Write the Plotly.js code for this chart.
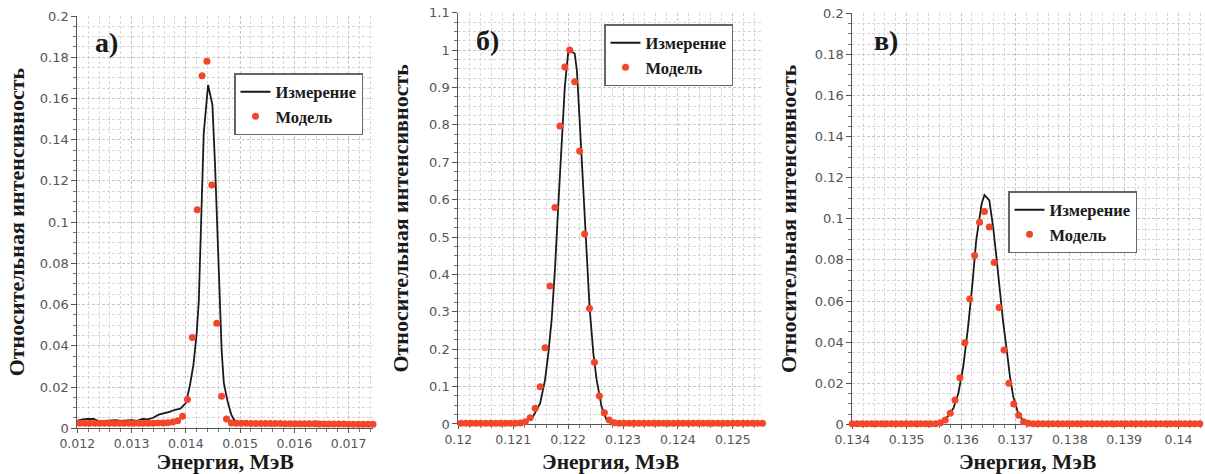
<!DOCTYPE html>
<html>
<head>
<meta charset="utf-8">
<script src="https://cdn.plot.ly/plotly-3.0.1.min.js"></script>
<style>html,body{margin:0;padding:0;background:#fff;}#chart{width:1205px;height:474px;}</style>
</head>
<body>
<div id="chart"></div>
<script>
// ---------- Panel а) ----------
const measA_x = [0.01200,0.01210,0.01220,0.01230,0.01240,0.01250,0.01260,0.01270,0.01280,0.01290,0.01300,0.01310,0.01320,0.01330,0.01340,0.01350,0.01360,0.01370,0.01380,0.01390,0.01400,
  0.01407,0.01414,0.01420,0.01424,0.01429,0.01433,0.01441,0.01449,0.01454,0.01460,0.01466,0.01470,0.01477,0.01484,0.01490,
  0.01500,0.01510,0.01520,0.01530,0.01540,0.01550,0.01560,0.01570,0.01580,0.01590,0.01600,0.01610,0.01620,0.01630,0.01640,0.01650,0.01660,0.01670,0.01680,0.01690,0.01700,0.01710,0.01720,0.01730,0.01740,0.01745];
const measA_y = [0.0037,0.0043,0.0045,0.0045,0.0034,0.0036,0.0037,0.0040,0.0036,0.0038,0.0040,0.0036,0.0046,0.0043,0.0051,0.0066,0.0072,0.0080,0.0090,0.0095,0.0122,
  0.0200,0.0307,0.0460,0.0620,0.1100,0.1430,0.1665,0.1570,0.1270,0.0780,0.0380,0.0220,0.0130,0.0065,0.0037,
  0.0027,0.0026,0.0027,0.0030,0.0026,0.0027,0.0026,0.0027,0.0030,0.0027,0.0026,0.0027,0.0027,0.0028,0.0033,0.0027,0.0026,0.0026,0.0025,0.0026,0.0026,0.0025,0.0025,0.0025,0.0025,0.0025];
const modA_x = [0.01205,0.01214,0.01223,0.01232,0.01241,0.01250,0.01259,0.01268,0.01277,0.01286,0.01295,0.01304,0.01313,0.01322,0.01331,0.01340,0.01349,0.01358,0.01367,
  0.01376,0.01385,0.01394,0.01403,0.01412,0.01421,0.01430,0.01439,0.01448,0.01457,0.01466,0.01475,0.01484,
  0.01493,0.01502,0.01511,0.01520,0.01529,0.01538,0.01547,0.01556,0.01565,0.01574,0.01583,0.01592,0.01601,0.01610,0.01619,0.01628,0.01637,0.01646,0.01655,0.01664,0.01673,0.01682,0.01691,0.01700,0.01709,0.01718,0.01727,0.01736,0.01745];
const modA_y = [0.0024,0.0025,0.0025,0.0024,0.0025,0.0025,0.0024,0.0025,0.0025,0.0024,0.0025,0.0025,0.0024,0.0025,0.0025,0.0025,0.0026,0.0026,0.0027,
  0.0030,0.0037,0.0058,0.0140,0.0440,0.1060,0.1710,0.1780,0.1180,0.0510,0.0155,0.0045,0.0026,
  0.0024,0.0024,0.0024,0.0023,0.0023,0.0023,0.0023,0.0023,0.0023,0.0023,0.0022,0.0022,0.0022,0.0022,0.0022,0.0022,0.0022,0.0021,0.0021,0.0021,0.0021,0.0021,0.0021,0.0020,0.0020,0.0020,0.0020,0.0020,0.0020];

// ---------- Panel б) ----------
const measB_x = [0.1200,0.1205,0.1210,0.12115,0.12118,0.12125,0.12136,0.12149,0.12158,0.12164,0.12170,0.12176,0.12182,0.12190,0.12194,0.12200,0.12204,0.12212,0.12216,0.12221,
  0.12227,0.12233,0.12239,0.12246,0.12252,0.12261,0.12270,0.12279,0.1229,0.1235,0.1240,0.1245,0.1250,0.12555];
const measB_y = [0.002,0.002,0.002,0.004,0.006,0.010,0.0195,0.055,0.118,0.189,0.278,0.412,0.581,0.813,0.902,0.991,0.998,0.991,0.946,0.813,
  0.634,0.456,0.314,0.189,0.118,0.046,0.011,0.002,0.002,0.002,0.002,0.002,0.002,0.002];
const modB_x = [0.12005,0.12014,0.12023,0.12032,0.12041,0.12050,0.12059,0.12068,0.12077,0.12086,0.12095,0.12104,0.12113,0.12122,0.12131,0.12140,0.12149,0.12158,0.12167,0.12176,0.12185,0.12194,0.12203,
  0.12212,0.12221,0.12230,0.12239,0.12248,0.12257,0.12266,0.12275,0.12284,0.12293,0.12302,0.12311,0.12320,0.12329,0.12338,0.12347,0.12356,0.12365,0.12374,0.12383,0.12392,0.12401,0.12410,0.12419,0.12428,0.12437,0.12446,0.12455,0.12464,0.12473,0.12482,0.12491,0.12500,0.12509,0.12518,0.12527,0.12536,0.12545,0.12554];
const modB_y = [0.002,0.002,0.002,0.002,0.002,0.002,0.002,0.002,0.002,0.002,0.002,0.002,0.003,0.006,0.017,0.042,0.0998,0.204,0.369,0.579,0.797,0.955,1.0,
  0.915,0.730,0.508,0.309,0.165,0.075,0.030,0.011,0.0036,0.002,0.002,0.002,0.002,0.002,0.002,0.002,0.002,0.002,0.002,0.002,0.002,0.002,0.002,0.002,0.002,0.002,0.002,0.002,0.002,0.002,0.002,0.002,0.002,0.002,0.002,0.002,0.002,0.002,0.002];

// ---------- Panel в) ----------
const measC_x = [0.1340,0.1345,0.1350,0.1355,0.13561,0.13573,0.13586,0.13595,0.13604,0.13613,0.13621,0.13628,0.13638,0.13643,0.13652,0.13659,0.13665,0.13671,0.13677,0.13684,
  0.13690,0.13696,0.13705,0.13714,0.13726,0.1375,0.1380,0.1385,0.1390,0.1395,0.1400,0.14045];
const measC_y = [0.0003,0.0003,0.0003,0.0004,0.0008,0.0029,0.0078,0.0151,0.0280,0.0475,0.0686,0.0897,0.1075,0.1116,0.1090,0.0960,0.0816,0.0654,0.0508,0.0362,
  0.0232,0.0135,0.0054,0.0018,0.0005,0.0003,0.0003,0.0003,0.0003,0.0003,0.0003,0.0003];
const modC_x = [0.13400,0.13409,0.13418,0.13427,0.13436,0.13445,0.13454,0.13463,0.13472,0.13481,0.13490,0.13499,0.13508,0.13517,0.13526,0.13535,0.13544,0.13553,
  0.13562,0.13571,0.13580,0.13589,0.13598,0.13607,0.13616,0.13625,0.13634,0.13643,
  0.13652,0.13661,0.13670,0.13679,0.13688,0.13697,0.13706,0.13715,0.13724,0.13733,0.13742,0.13751,0.13760,0.13769,0.13778,0.13787,0.13796,0.13805,0.13814,0.13823,
  0.13832,0.13841,0.13850,0.13859,0.13868,0.13877,0.13886,0.13895,0.13904,0.13913,0.13922,0.13931,0.13940,0.13949,0.13958,0.13967,0.13976,0.13985,0.13994,0.14003,
  0.14012,0.14021,0.14030,0.14039];
const modC_y = [0.0003,0.0003,0.0003,0.0003,0.0003,0.0003,0.0003,0.0003,0.0003,0.0003,0.0003,0.0003,0.0003,0.0003,0.0003,0.0003,0.0003,0.0003,
  0.0008,0.0021,0.0054,0.0118,0.0227,0.0397,0.0610,0.0821,0.0983,0.1035,
  0.0960,0.0787,0.0568,0.0362,0.0200,0.0099,0.0044,0.0013,0.0005,0.0003,0.0003,0.0003,0.0003,0.0003,0.0003,0.0003,0.0003,0.0003,0.0003,0.0003,
  0.0003,0.0003,0.0003,0.0003,0.0003,0.0003,0.0003,0.0003,0.0003,0.0003,0.0003,0.0003,0.0003,0.0003,0.0003,0.0003,0.0003,0.0003,0.0003,0.0003,
  0.0003,0.0003,0.0003,0.0003];

// ---------- Text ----------
const nameMeas = 'Измерение';
const nameMod = 'Модель';
const panelLabels = ['а)', 'б)', 'в)'];
const xTitle = 'Энергия, МэВ';
const yTitle = 'Относительная интенсивность';

const LINE_COLOR = '#1a1a1a';
const DOT_COLOR = '#f2462b';
const serif = 'Liberation Serif, Times New Roman, serif';
const sans = 'DejaVu Sans, sans-serif';

function lineTrace(x, y, xa, ya, lg) {
  return {x, y, xaxis: xa, yaxis: ya, type: 'scatter', mode: 'lines', name: nameMeas,
    line: {color: LINE_COLOR, width: 1.8}, legend: lg, cliponaxis: false};
}
function dotTrace(x, y, xa, ya, lg) {
  return {x, y, xaxis: xa, yaxis: ya, type: 'scatter', mode: 'markers', name: nameMod,
    marker: {color: DOT_COLOR, size: 7}, legend: lg, cliponaxis: false};
}

const data = [
  lineTrace(measA_x, measA_y, 'x', 'y', 'legend'),
  dotTrace(modA_x, modA_y, 'x', 'y', 'legend'),
  lineTrace(measB_x, measB_y, 'x2', 'y2', 'legend2'),
  dotTrace(modB_x, modB_y, 'x2', 'y2', 'legend2'),
  lineTrace(measC_x, measC_y, 'x3', 'y3', 'legend3'),
  dotTrace(modC_x, modC_y, 'x3', 'y3', 'legend3')
];

function xAxis(domain, range, tick0, dtick, minorDtick, anchor) {
  return {
    domain, range, anchor, tick0, dtick,
    showgrid: true, gridcolor: '#c6c6c6', griddash: '3px,2px', gridwidth: 1,
    zeroline: false, showline: true, linecolor: '#555', linewidth: 1,
    ticks: 'outside', ticklen: 4, tickcolor: '#555', layer: 'below traces',
    tickfont: {family: sans, size: 12.5, color: '#555'},
    minor: {dtick: minorDtick, showgrid: true, gridcolor: '#d8d8d8', griddash: '3px,2px', ticks: 'outside', ticklen: 3, tickcolor: '#777'},
    title: {text: xTitle, font: {family: serif, size: 21.5, color: '#1a1a1a', weight: 'bold'}, standoff: 10}
  };
}
function yAxis(domain, range, dtick, minorDtick, anchor, standoff) {
  return {
    domain, range, anchor, tick0: 0, dtick,
    showgrid: true, gridcolor: '#c6c6c6', griddash: '3px,2px', gridwidth: 1,
    zeroline: false, showline: true, linecolor: '#555', linewidth: 1,
    ticks: 'outside', ticklen: 5, tickcolor: '#555', layer: 'below traces',
    tickfont: {family: sans, size: 13, color: '#555'},
    minor: {dtick: minorDtick, showgrid: true, gridcolor: '#d8d8d8', griddash: '3px,2px', ticks: 'outside', ticklen: 3, tickcolor: '#777'},
    title: {text: yTitle, font: {family: serif, size: 22, color: '#1a1a1a', weight: 'bold'}, standoff: standoff}
  };
}
function legendBox(x, y) {
  return {x, y, xanchor: 'left', yanchor: 'top', bgcolor: '#ffffff', bordercolor: '#666', borderwidth: 1.5,
    font: {family: serif, size: 16.5, color: '#1a1a1a', weight: 'bold'}, itemwidth: 30, tracegroupgap: 0};
}
function label(text, x, y) {
  return {text, x, y, xref: 'paper', yref: 'paper', xanchor: 'center', yanchor: 'middle', showarrow: false,
    font: {family: serif, size: 28, color: '#1a1a1a', weight: 'bold'}};
}

const layout = {
  width: 1205, height: 474,
  margin: {l: 0, r: 0, t: 0, b: 0},
  paper_bgcolor: '#ffffff', plot_bgcolor: '#ffffff',
  showlegend: true,
  xaxis: xAxis([0.06415, 0.30954], [0.012, 0.01745], 0.012, 0.001, 0.0002, 'y'),
  yaxis: yAxis([0.09641, 0.96624], [0, 0.2], 0.02, 0.005, 'x', 9),
  xaxis2: xAxis([0.38033, 0.63320], [0.12, 0.12555], 0.12, 0.001, 0.0002, 'y2'),
  yaxis2: yAxis([0.10549, 0.97321], [0, 1.1], 0.1, 0.025, 'x2', 14),
  xaxis3: xAxis([0.70730, 0.99834], [0.134, 0.14045], 0.134, 0.001, 0.0002, 'y3'),
  yaxis3: yAxis([0.10485, 0.97194], [0, 0.2], 0.02, 0.005, 'x3', 12),
  legend: legendBox(234 / 1205, 1 - 73 / 474),
  legend2: legendBox(604 / 1205, 1 - 24 / 474),
  legend3: legendBox(1008 / 1205, 1 - 191 / 474),
  annotations: [
    label(panelLabels[0], 106 / 1205, 1 - 42 / 474),
    label(panelLabels[1], 487 / 1205, 1 - 41 / 474),
    label(panelLabels[2], 886 / 1205, 1 - 41 / 474)
  ]
};

Plotly.newPlot('chart', data, layout, {displayModeBar: false, staticPlot: true});
</script>
</body>
</html>
